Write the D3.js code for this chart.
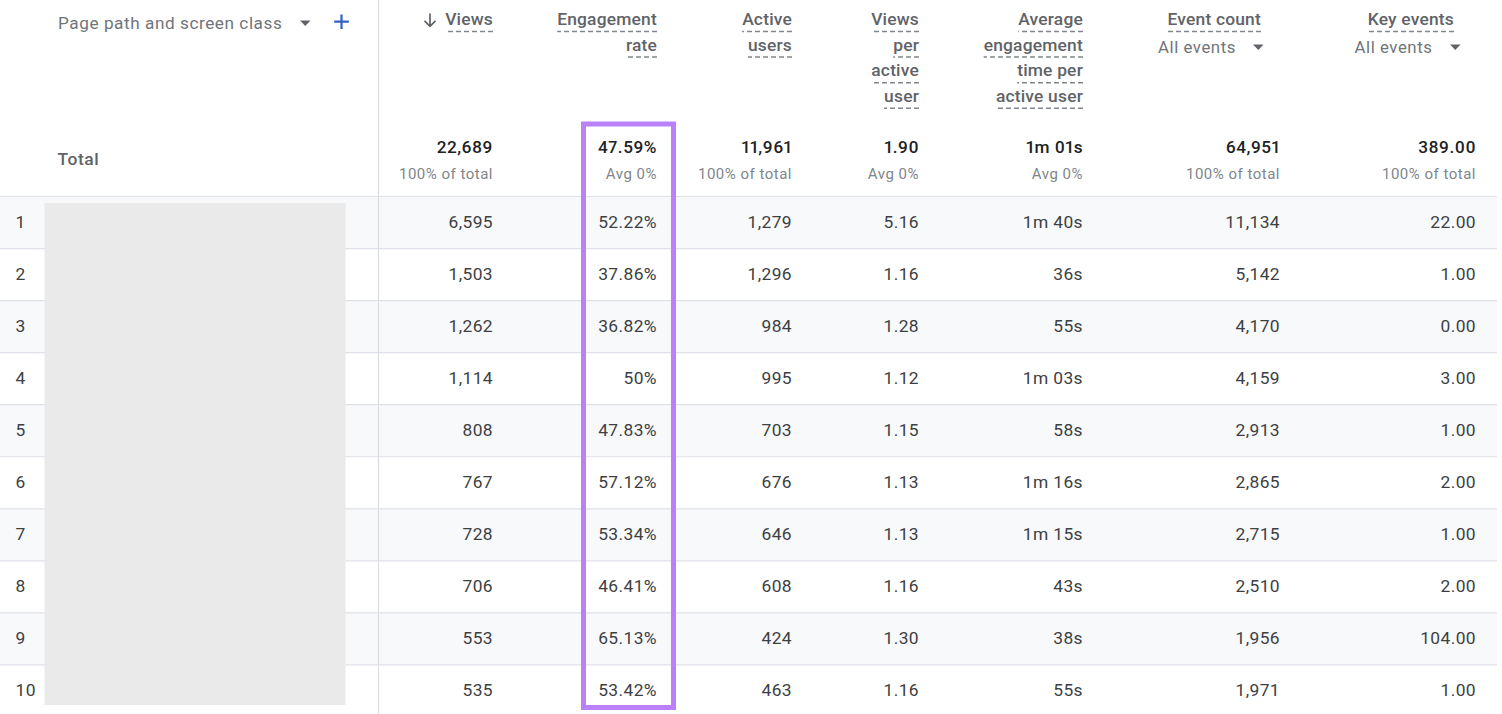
<!DOCTYPE html>
<html>
<head>
<meta charset="utf-8">
<script src="https://cdn.jsdelivr.net/npm/d3@7"></script>
<style>
  html, body { margin: 0; padding: 0; background: #fff; overflow: hidden; }
  text { font-family: Roboto, sans-serif; }
  .head { font-size: 17.4px; font-weight: 500; fill: #5f6368; letter-spacing: 0.2px; }
  .dim { font-size: 17.2px; fill: #70757a; letter-spacing: 0.55px; }
  .filter { font-size: 16.8px; fill: #70757a; letter-spacing: 0.55px; }
  .total { font-size: 17.2px; font-weight: 500; fill: #202124; letter-spacing: 0.5px; font-variant-numeric: proportional-nums; }
  .sub { font-size: 15px; fill: #80868b; letter-spacing: 0.5px; }
  .cell { font-size: 17.4px; fill: #3c4043; letter-spacing: 0.4px; }
</style>
</head>
<body>
<svg id="chart" width="1502" height="714"></svg>
<script>
const columns = ['views', 'engagement', 'active', 'perUser', 'avgTime', 'eventCount', 'keyEvents']
const rowNumbers = [1, 2, 3, 4, 5, 6, 7, 8, 9, 10]

const headers = [
  ['Views'],
  ['Engagement', 'rate'],
  ['Active', 'users'],
  ['Views', 'per', 'active', 'user'],
  ['Average', 'engagement', 'time per', 'active user'],
  ['Event count'],
  ['Key events']
]

const totals = ['22,689', '47.59%', '11,961', '1.90', '1m 01s', '64,951', '389.00']
const totalNotes = ['100% of total', 'Avg 0%', '100% of total', 'Avg 0%', 'Avg 0%', '100% of total', '100% of total']

const views = ['6,595', '1,503', '1,262', '1,114', '808', '767', '728', '706', '553', '535']
const engagement = ['52.22%', '37.86%', '36.82%', '50%', '47.83%', '57.12%', '53.34%', '46.41%', '65.13%', '53.42%']
const active = ['1,279', '1,296', '984', '995', '703', '676', '646', '608', '424', '463']
const perUser = ['5.16', '1.16', '1.28', '1.12', '1.15', '1.13', '1.13', '1.16', '1.30', '1.16']
const avgTime = ['1m 40s', '36s', '55s', '1m 03s', '58s', '1m 16s', '1m 15s', '43s', '38s', '55s']
const eventCount = ['11,134', '5,142', '4,170', '4,159', '2,913', '2,865', '2,715', '2,510', '1,956', '1,971']
const keyEvents = ['22.00', '1.00', '0.00', '3.00', '1.00', '2.00', '1.00', '2.00', '104.00', '1.00']

const rowValues = [views, engagement, active, perUser, avgTime, eventCount, keyEvents]

const svg = d3.select('#chart')

// right edge of every column, and of its header (the last two sit further in)
const colX = d3.scaleOrdinal().domain(columns).range([493, 657, 792, 919, 1083, 1280, 1476])
const headX = d3.scaleOrdinal().domain(columns).range([493, 657, 792, 919, 1083, 1261, 1454])
const rowY = d3.scaleBand().domain(rowNumbers).range([196.5, 717])

// row stripes
svg.selectAll('rect.stripe')
  .data(rowNumbers.filter(d => d % 2 === 1))
  .enter()
  .append('rect')
    .attr('class', 'stripe')
    .attr('x', 0)
    .attr('y', d => rowY(d))
    .attr('width', 1497)
    .attr('height', rowY.bandwidth())
    .attr('fill', '#f8f9fb')

// row borders
svg.selectAll('line.rowline')
  .data(rowNumbers)
  .enter()
  .append('line')
    .attr('class', 'rowline')
    .attr('x1', 0)
    .attr('x2', 1497)
    .attr('y1', d => rowY(d))
    .attr('y2', d => rowY(d))
    .attr('stroke', '#dfe1e8')
    .attr('stroke-width', 1.2)

svg.append('line')
  .attr('x1', 378.5).attr('x2', 378.5)
  .attr('y1', 0).attr('y2', 714)
  .attr('stroke', '#dadce0')
  .attr('stroke-width', 1.2)

// hidden page paths
svg.append('rect')
  .attr('x', 44.5).attr('y', 203)
  .attr('width', 301).attr('height', 502)
  .attr('fill', '#eaeaea')

// first column header
svg.append('text').attr('class', 'dim').attr('x', 58).attr('y', 29).text('Page path and screen class')
svg.append('path').attr('d', 'M300 20.5h10.5l-5.2 5.5z').attr('fill', '#5f6368')
svg.append('path').attr('d', 'M341.5 14.5v14.5M334.2 21.7h14.6').attr('stroke', '#2f62c5').attr('stroke-width', 2.2).attr('fill', 'none')
svg.append('text').attr('class', 'head').attr('x', 57.5).attr('y', 165).style('letter-spacing', '0.6px').text('Total')

// sort arrow next to Views
svg.append('path')
  .attr('d', 'M430 13.5v12.5M424.5 20.8l5.5 5.5 5.5-5.5')
  .attr('stroke', '#5f6368').attr('stroke-width', 1.7).attr('fill', 'none')

// metric headers with dashed underline
columns.forEach((col, i) => {
  headers[i].forEach((line, j) => {
    const y = 25 + j * 25.6
    const t = svg.append('text')
      .attr('class', 'head')
      .attr('x', headX(col))
      .attr('y', y)
      .attr('text-anchor', 'end')
      .text(line)
    const w = t.node().getComputedTextLength()
    svg.append('line')
      .attr('x1', headX(col))
      .attr('x2', headX(col) - w)
      .attr('y1', y + 6.5)
      .attr('y2', y + 6.5)
      .attr('stroke', '#80868b')
      .attr('stroke-width', 1.5)
      .attr('stroke-dasharray', '5 3')
  })
  svg.append('text').attr('class', 'total').attr('x', colX(col)).attr('y', 152.5).attr('text-anchor', 'end').text(totals[i])
  svg.append('text').attr('class', 'sub').attr('x', colX(col)).attr('y', 179).attr('text-anchor', 'end').text(totalNotes[i])
})

// All events dropdowns
const dropdowns = [['eventCount', 1158, 1253], ['keyEvents', 1354.5, 1450]]
dropdowns.forEach(d => {
  svg.append('text').attr('class', 'filter').attr('x', d[1]).attr('y', 53).text('All events')
  svg.append('path').attr('d', `M${d[2]} 44.5h10.5l-5.2 5.5z`).attr('fill', '#5f6368')
})

// body rows
svg.selectAll('text.rownum')
  .data(rowNumbers)
  .enter()
  .append('text')
    .attr('class', 'cell rownum')
    .attr('x', 15.5)
    .attr('y', d => rowY(d) + 31.5)
    .text(d => d)

columns.forEach((col, i) => {
  svg.selectAll(`text.c-${col}`)
    .data(rowValues[i])
    .enter()
    .append('text')
      .attr('class', `cell c-${col}`)
      .attr('x', colX(col))
      .attr('y', (d, r) => rowY(rowNumbers[r]) + 31.5)
      .attr('text-anchor', 'end')
      .text(d => d)
})

// highlight box around engagement rate
svg.append('rect')
  .attr('x', 583.5).attr('y', 124)
  .attr('width', 90).attr('height', 583.5)
  .attr('fill', 'none')
  .attr('stroke', '#bb80f7')
  .attr('stroke-width', 5)
</script>
</body>
</html>
